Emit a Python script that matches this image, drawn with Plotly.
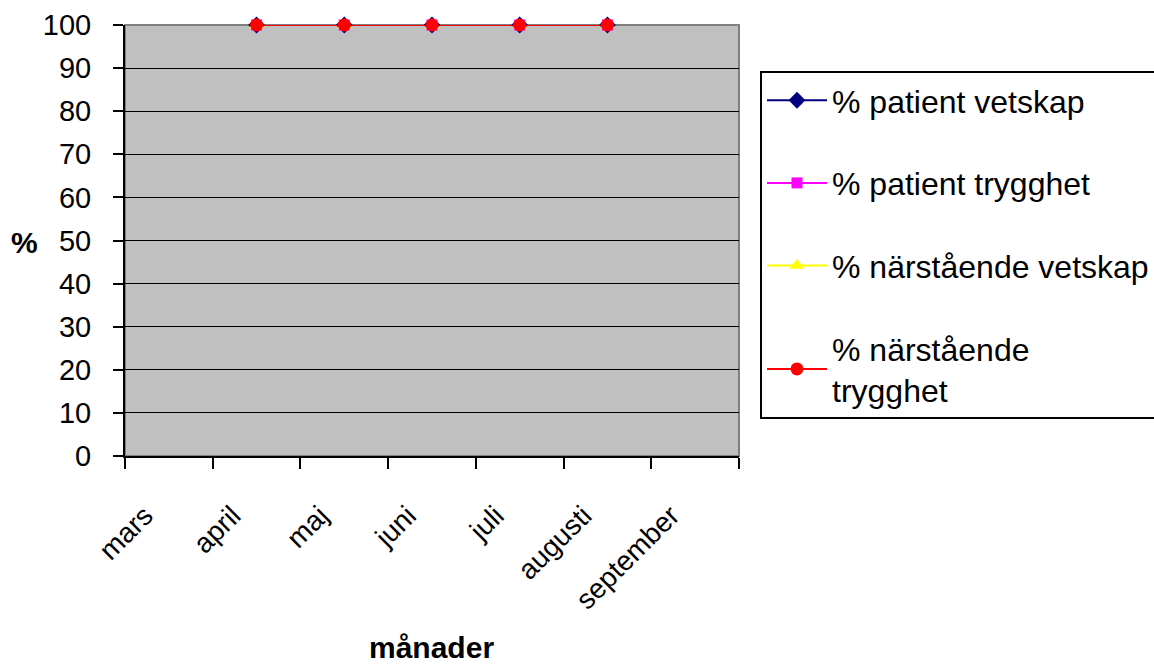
import plotly.graph_objects as go

months = ["mars", "april", "maj", "juni", "juli", "augusti", "september"]
patient_vetskap = [None, 100, 100, 100, 100, 100, None]
patient_trygghet = [None, 100, 100, 100, 100, 100, None]
narstaende_vetskap = [None, 100, 100, 100, 100, 100, None]
narstaende_trygghet = [None, 100, 100, 100, 100, 100, None]

series = [
    ("% patient vetskap", patient_vetskap, "#000080", "diamond", 13),
    ("% patient trygghet", patient_trygghet, "#FF00FF", "square", 11),
    ("% närstående vetskap", narstaende_vetskap, "#FFFF00", "triangle-up", 13),
    ("% närstående<br>trygghet", narstaende_trygghet, "#FF0000", "circle", 13),
]

FONT = "Liberation Sans, Arial, sans-serif"

fig = go.Figure()
for i, (name, vals, color, sym, sz) in enumerate(series):
    fig.add_trace(go.Scatter(
        x=months, y=vals, name=name, mode="lines+markers",
        line=dict(color=color, width=2),
        marker=dict(symbol=sym, size=sz, color=color),
        legendgroup=f"g{i}", cliponaxis=False,
    ))

W, H = 1154, 668
L, R, T, B = 125, 415, 25, 212
pw, ph = W - L - R, H - T - B

fig.update_layout(
    width=W, height=H,
    margin=dict(l=L, r=R, t=T, b=B, pad=0, autoexpand=False),
    paper_bgcolor="white",
    plot_bgcolor="#C0C0C0",
    font=dict(family=FONT, size=30, color="black"),
    showlegend=True,
    legend=dict(
        x=(760 - L) / pw, xanchor="left",
        y=(H - B - 71) / ph, yanchor="top",
        bordercolor="black", borderwidth=2,
        bgcolor="white",
        font=dict(family=FONT, size=32, color="black"),
        traceorder="grouped", tracegroupgap=38,
        itemwidth=60,
    ),
    xaxis=dict(
        type="category", categoryorder="array", categoryarray=months,
        range=[-0.5, 6.5], tickson="boundaries",
        ticks="outside", ticklen=11, tickwidth=2, tickcolor="black",
        showline=True, linecolor="black", linewidth=2,
        showgrid=False, zeroline=False, automargin=False,
        tickangle=-45, tickfont=dict(family=FONT, size=28),
        ticklabelshift=-24, ticklabelstandoff=30,
    ),
    yaxis=dict(
        range=[0, 100], dtick=10, tick0=0,
        ticks="outside", ticklen=10, tickwidth=2, tickcolor="black",
        showline=True, linecolor="black", linewidth=2,
        showgrid=True, gridcolor="black", gridwidth=1,
        zeroline=False, automargin=False,
        tickfont=dict(family=FONT, size=29),
        ticklabelstandoff=16,
    ),
    shapes=[dict(
        type="rect", xref="paper", yref="paper", x0=0, x1=1, y0=0, y1=1,
        line=dict(color="#808080", width=2), layer="between",
    )],
    annotations=[
        dict(text="<b>%</b>", xref="paper", yref="paper",
             x=(24 - L) / pw, y=(H - B - 242) / ph, showarrow=False,
             xanchor="center", yanchor="middle",
             font=dict(family=FONT, size=30, color="black")),
        dict(text="<b>månader</b>", xref="paper", yref="paper",
             x=(431 - L) / pw, y=(H - B - 666) / ph, showarrow=False,
             xanchor="center", yanchor="bottom",
             font=dict(family=FONT, size=30, color="black")),
    ],
)

fig.write_html("out.html")
